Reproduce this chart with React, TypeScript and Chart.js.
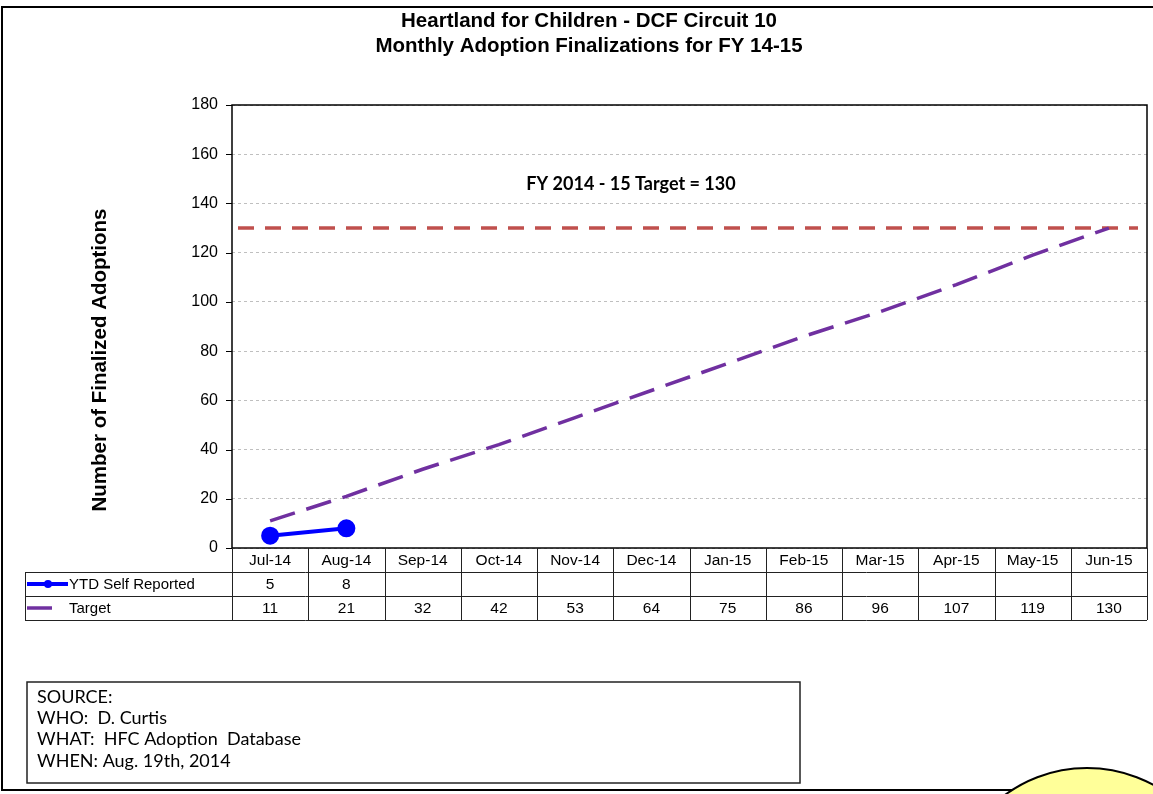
import React, { useEffect, useRef } from "react";
import { Chart, registerables } from "chart.js";

Chart.register(...registerables);

const categories = ["Jul-14", "Aug-14", "Sep-14", "Oct-14", "Nov-14", "Dec-14", "Jan-15", "Feb-15", "Mar-15", "Apr-15", "May-15", "Jun-15"];
const ytdSelfReported: (number | null)[] = [5, 8, null, null, null, null, null, null, null, null, null, null];
const targetValues = [11, 21, 32, 42, 53, 64, 75, 86, 96, 107, 119, 130];
const fyTarget = 130;
const titleLines = ["Heartland for Children - DCF Circuit 10", "Monthly Adoption Finalizations for FY 14-15"];
const yAxisTitle = "Number of Finalized Adoptions";
const targetLabel = "FY 2014 - 15 Target = 130";
const seriesNames = ["YTD Self Reported", "Target"];
const sourceLines = ["SOURCE:", "WHO:  D. Curtis", "WHAT:  HFC Adoption  Database", "WHEN: Aug. 19th, 2014"];

const BLUE = "#0000FF";
const PURPLE = "#7030A0";
const RED = "#C0504D";
const ARIAL = '"Liberation Sans", Arial, sans-serif';
const CALIBRI = 'Lato, "Open Sans", sans-serif';

const decorPlugin = {
  id: "decor",
  beforeDraw(chart: any) {
    const ctx = chart.ctx;
    ctx.save();
    ctx.fillStyle = "#fff";
    ctx.fillRect(0, 0, chart.width, chart.height);
    ctx.strokeStyle = "#000";
    ctx.lineWidth = 2;
    ctx.beginPath();
    ctx.moveTo(chart.width + 5, 7);
    ctx.lineTo(2, 7);
    ctx.lineTo(2, 790);
    ctx.lineTo(chart.width + 5, 790);
    ctx.stroke();
    ctx.restore();
  },
  beforeDatasetsDraw(chart: any) {
    const ctx = chart.ctx;
    const { left, right, top, bottom } = chart.chartArea;
    const y = chart.scales.y;
    ctx.save();
    // target reference line
    const py = y.getPixelForValue(fyTarget);
    ctx.strokeStyle = RED;
    ctx.lineWidth = 3.5;
    ctx.setLineDash([16, 11]);
    ctx.beginPath();
    ctx.moveTo(left + 6, py);
    ctx.lineTo(right - 9, py);
    ctx.stroke();
    ctx.setLineDash([]);
    // frame
    ctx.strokeStyle = "#000";
    ctx.lineWidth = 1.5;
    ctx.strokeRect(left, top, right - left, bottom - top);
    // tick marks
    ctx.lineWidth = 1;
    y.ticks.forEach((t: any) => {
      const ty = Math.round(y.getPixelForValue(t.value)) + 0.5;
      ctx.beginPath();
      ctx.moveTo(left - 6, ty);
      ctx.lineTo(left, ty);
      ctx.stroke();
    });
    // annotation
    ctx.fillStyle = "#000";
    ctx.font = `bold 18px ${CALIBRI}`;
    ctx.textAlign = "center";
    ctx.textBaseline = "middle";
    ctx.fillText(targetLabel, 631, y.getPixelForValue(148));
    ctx.restore();
  },
  afterDraw(chart: any) {
    const ctx = chart.ctx;
    const { right, bottom } = chart.chartArea;
    const x = chart.scales.x;
    ctx.save();
    // titles
    ctx.fillStyle = "#000";
    ctx.textAlign = "center";
    ctx.textBaseline = "middle";
    ctx.font = `bold 20.5px ${ARIAL}`;
    ctx.fillText(titleLines[0], 589, 21);
    ctx.fillText(titleLines[1], 589, 46);
    // y title
    ctx.save();
    ctx.translate(100, 360);
    ctx.rotate(-Math.PI / 2);
    ctx.fillText(yAxisTitle, 0, 0);
    ctx.restore();

    // data table
    const rowH = 24;
    const colW = x.getPixelForValue(1) - x.getPixelForValue(0);
    const tableLeft = 25;
    ctx.strokeStyle = "#222";
    ctx.lineWidth = 1;
    const hline = (x0: number, x1: number, yy: number) => {
      ctx.beginPath();
      ctx.moveTo(x0, Math.round(yy) + 0.5);
      ctx.lineTo(x1, Math.round(yy) + 0.5);
      ctx.stroke();
    };
    const vline = (xx: number, y0: number, y1: number) => {
      ctx.beginPath();
      ctx.moveTo(Math.round(xx) + 0.5, y0);
      ctx.lineTo(Math.round(xx) + 0.5, y1);
      ctx.stroke();
    };
    hline(tableLeft, right, bottom + rowH);
    hline(tableLeft, right, bottom + rowH * 2);
    hline(tableLeft, right, bottom + rowH * 3);
    vline(tableLeft, bottom + rowH, bottom + rowH * 3);
    for (let i = 0; i <= categories.length; i++) {
      const bx = i < categories.length ? x.getPixelForValue(i) - colW / 2 : right;
      vline(bx, bottom, bottom + rowH * 3);
    }
    ctx.font = `15.5px ${ARIAL}`;
    ctx.fillStyle = "#000";
    categories.forEach((c, i) => {
      const cx = x.getPixelForValue(i);
      ctx.fillText(c, cx, bottom + rowH / 2 + 1);
      if (ytdSelfReported[i] != null) ctx.fillText(String(ytdSelfReported[i]), cx, bottom + rowH * 1.5 + 1);
      ctx.fillText(String(targetValues[i]), cx, bottom + rowH * 2.5 + 1);
    });
    // legend keys
    ctx.textAlign = "left";
    ctx.font = `15px ${ARIAL}`;
    const r1 = bottom + rowH * 1.5;
    const r2 = bottom + rowH * 2.5;
    ctx.fillText(seriesNames[0], 69, r1 + 1);
    ctx.fillText(seriesNames[1], 69, r2 + 1);
    ctx.strokeStyle = BLUE;
    ctx.lineWidth = 4;
    ctx.beginPath();
    ctx.moveTo(27, r1);
    ctx.lineTo(68, r1);
    ctx.stroke();
    ctx.fillStyle = BLUE;
    ctx.beginPath();
    ctx.arc(48, r1, 4, 0, Math.PI * 2);
    ctx.fill();
    ctx.strokeStyle = PURPLE;
    ctx.lineWidth = 3.5;
    ctx.beginPath();
    ctx.moveTo(27, r2);
    ctx.lineTo(52, r2);
    ctx.stroke();

    // source box
    ctx.strokeStyle = "#222";
    ctx.lineWidth = 1.5;
    ctx.strokeRect(27, 682, 773, 101);
    ctx.fillStyle = "#000";
    ctx.font = `18px ${CALIBRI}`;
    ctx.textBaseline = "middle";
    sourceLines.forEach((s, i) => ctx.fillText(s, 37, 697 + i * 21.3));

    // yellow shape
    ctx.fillStyle = "#FFFF99";
    ctx.strokeStyle = "#000";
    ctx.lineWidth = 2;
    ctx.beginPath();
    ctx.ellipse(1087, 899, 135, 131, 0, 0, Math.PI * 2);
    ctx.fill();
    ctx.stroke();
    ctx.restore();
  },
};

export default function App() {
  const ref = useRef<HTMLCanvasElement | null>(null);
  useEffect(() => {
    if (!ref.current) return;
    const chart = new Chart(ref.current, {
      type: "line",
      data: {
        labels: categories,
        datasets: [
          {
            label: seriesNames[0],
            data: ytdSelfReported,
            borderColor: BLUE,
            backgroundColor: BLUE,
            borderWidth: 4,
            pointRadius: 7,
            pointHoverRadius: 7,
            pointBackgroundColor: BLUE,
            pointBorderColor: BLUE,
            spanGaps: false,
          },
          {
            label: seriesNames[1],
            data: targetValues,
            borderColor: PURPLE,
            backgroundColor: PURPLE,
            borderWidth: 3.5,
            borderDash: [26, 12],
            pointRadius: 0,
            pointHoverRadius: 0,
          },
        ],
      },
      options: {
        responsive: false,
        animation: false,
        events: [],
        layout: { autoPadding: false, padding: { top: 105, right: 6, bottom: 246, left: 0 } },
        plugins: { legend: { display: false }, title: { display: false }, tooltip: { enabled: false } },
        scales: {
          x: { type: "category", offset: true, display: false },
          y: {
            min: 0,
            max: 180,
            ticks: { stepSize: 20, padding: 14, color: "#000", font: { family: ARIAL, size: 16 } },
            grid: { color: "#BFBFBF", drawTicks: false, lineWidth: 1 },
            border: { display: false, dash: [3, 3] },
            afterFit: (scale: any) => {
              scale.width = 232;
            },
          },
        },
      },
      plugins: [decorPlugin],
    });
    return () => chart.destroy();
  }, []);
  return (
    <div style={{ position: "fixed", left: 0, top: 0, width: 1153, height: 794, background: "#fff" }}>
      <canvas ref={ref} width={1153} height={794} style={{ display: "block" }} />
    </div>
  );
}
